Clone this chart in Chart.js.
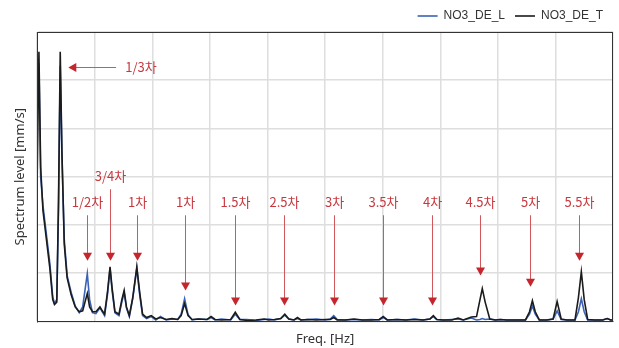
<!DOCTYPE html>
<html>
<head>
<meta charset="utf-8">
<script src="https://cdn.jsdelivr.net/npm/chart.js@4.4.0/dist/chart.umd.min.js"></script>
<style>
  body { margin: 0; background: #fff; }
</style>
</head>
<body>
<canvas id="spectrumChart" width="619" height="348"></canvas>
<script>
/* Spectrum data (shared frequency axis) */
const freqs = [
  0, 0.3, 0.6, 1.0, 1.6, 2.2, 2.7, 3.0, 3.4, 3.7,
  4.0, 4.3, 4.7, 5.2, 5.9, 6.6, 7.3, 7.9, 8.3, 8.7,
  9.1, 9.6, 10.2, 10.9, 11.3, 11.7, 12.2, 12.65, 13.0, 13.5,
  14.2, 14.7, 15.1, 15.5, 16.0, 16.6, 17.3, 17.8, 18.3, 19.0,
  19.8, 20.6, 21.4, 22.4, 23.4, 24.4, 25.0, 25.6, 26.2, 26.9,
  28.0, 29.5, 30.2, 30.9, 32.0, 33.6, 34.4, 35.2, 36.5, 38.0,
  39.4, 40.2, 41.2, 42.3, 43.0, 43.7, 44.6, 45.2, 45.8, 47.0,
  48.5, 50.0, 50.9, 51.5, 52.1, 53.5, 55.0, 56.5, 58.0, 59.4,
  60.1, 60.8, 62.5, 64.0, 65.5, 67.0, 68.2, 68.8, 69.4, 70.5,
  72.0, 73.1, 74.0, 75.4, 76.3, 76.9, 77.3, 77.8, 78.6, 79.6,
  80.4, 81.5, 83.0, 84.8, 85.5, 86.0, 86.5, 87.2, 88.5, 89.6,
  90.3, 91.0, 92.0, 93.4, 94.0, 94.5, 95.0, 95.6, 96.8, 98.2,
  99.0, 99.6, 100
];

const levelT = [
  3.0, 5.59, 3.2, 2.3, 1.7, 1.1, 0.45, 0.35, 0.4, 2.5,
  5.59, 3.5, 1.6, 0.9, 0.55, 0.3, 0.2, 0.22, 0.4, 0.58,
  0.3, 0.2, 0.2, 0.3, 0.22, 0.15, 0.6, 1.13, 0.7, 0.2,
  0.15, 0.45, 0.64, 0.3, 0.12, 0.5, 1.13, 0.6, 0.15, 0.08,
  0.12, 0.05, 0.08, 0.04, 0.06, 0.04, 0.12, 0.37, 0.12, 0.04,
  0.05, 0.04, 0.1, 0.04, 0.03, 0.04, 0.19, 0.04, 0.02, 0.03,
  0.05, 0.03, 0.04, 0.06, 0.15, 0.05, 0.03, 0.08, 0.03, 0.04,
  0.03, 0.04, 0.04, 0.08, 0.03, 0.03, 0.05, 0.03, 0.03, 0.04,
  0.1, 0.03, 0.04, 0.03, 0.04, 0.03, 0.05, 0.12, 0.04, 0.03,
  0.03, 0.07, 0.03, 0.09, 0.1, 0.45, 0.68, 0.4, 0.05, 0.03,
  0.04, 0.03, 0.03, 0.03, 0.2, 0.43, 0.2, 0.03, 0.03, 0.05,
  0.41, 0.05, 0.03, 0.03, 0.5, 1.03, 0.45, 0.04, 0.03, 0.03,
  0.06, 0.03, 0.03
];

const levelL = [
  4.6, 5.35, 3.0, 2.4, 1.8, 1.2, 0.5, 0.38, 0.45, 2.3,
  5.3, 3.4, 1.7, 0.95, 0.6, 0.32, 0.18, 0.3, 0.65, 0.99,
  0.45, 0.18, 0.16, 0.28, 0.2, 0.12, 0.55, 1.1, 0.65, 0.18,
  0.12, 0.4, 0.6, 0.28, 0.1, 0.48, 1.1, 0.55, 0.12, 0.06,
  0.1, 0.03, 0.1, 0.03, 0.05, 0.04, 0.15, 0.47, 0.14, 0.03,
  0.05, 0.04, 0.08, 0.03, 0.05, 0.03, 0.15, 0.04, 0.04, 0.02,
  0.04, 0.05, 0.03, 0.06, 0.13, 0.05, 0.03, 0.06, 0.03, 0.04,
  0.05, 0.03, 0.05, 0.12, 0.04, 0.03, 0.04, 0.03, 0.04, 0.03,
  0.08, 0.03, 0.04, 0.03, 0.05, 0.03, 0.05, 0.1, 0.04, 0.03,
  0.04, 0.05, 0.03, 0.07, 0.03, 0.04, 0.06, 0.04, 0.05, 0.03,
  0.04, 0.03, 0.03, 0.03, 0.15, 0.32, 0.15, 0.03, 0.03, 0.05,
  0.22, 0.04, 0.03, 0.03, 0.2, 0.47, 0.2, 0.03, 0.03, 0.03,
  0.06, 0.03, 0.03
];

/* Order markers (vertical arrows) */
const orderLabels = ["1/2차", "3/4차", "1차", "1차", "1.5차", "2.5차", "3차", "3.5차", "4차", "4.5차", "5차", "5.5차"];
const orderFreqs = [8.67, 12.65, 17.3, 25.6, 34.3, 42.8, 51.5, 60.0, 68.6, 76.9, 85.6, 94.1];
const orderTipLevels = [1.26, 1.26, 1.26, 0.64, 0.33, 0.33, 0.33, 0.33, 0.33, 0.95, 0.72, 1.26];
const orderLabelLevels = [2.47, 3.01, 2.47, 2.47, 2.47, 2.47, 2.47, 2.47, 2.47, 2.47, 2.47, 2.47];

/* 1/3 order marker (horizontal arrow) */
const thirdLabel = "1/3차";
const thirdLevel = 5.28;
const thirdTipFreq = 5.4;
const thirdTailFreq = 13.7;
const thirdTextFreq = 15.3;

(() => {
    const RED = "#c4262d";
    const RED_LINE = "#d0585c";
    const RED_TEXT = "#c8393f";

    // frame around the plot area
    const framePlugin = {
        id: "frame",
        afterDatasetsDraw(chart) {
            const a = chart.chartArea;
            const ctx = chart.ctx;
            ctx.save();
            ctx.strokeStyle = "#333";
            ctx.lineWidth = 1;
            ctx.strokeRect(Math.round(a.left) + 0.5, Math.round(a.top) + 0.5,
                Math.round(a.right - a.left) - 1, Math.round(a.bottom - a.top));
            ctx.restore();
        }
    };

    // red arrows + order labels, positioned through the chart scales
    const orderPlugin = {
        id: "orders",
        afterDraw(chart) {
            const ctx = chart.ctx;
            const xs = chart.scales.x;
            const ys = chart.scales.y;
            ctx.save();
            ctx.font = "13px 'Noto Sans CJK KR', 'Noto Sans', sans-serif";
            ctx.textBaseline = "middle";

            for (let i = 0; i < orderLabels.length; i++) {
                const x = Math.round(xs.getPixelForValue(orderFreqs[i])) + 0.5;
                const yLabel = ys.getPixelForValue(orderLabelLevels[i]);
                const yTip = ys.getPixelForValue(orderTipLevels[i]);

                ctx.fillStyle = RED_TEXT;
                ctx.textAlign = "center";
                ctx.fillText(orderLabels[i], x, yLabel);

                ctx.strokeStyle = RED_LINE;
                ctx.lineWidth = 1;
                ctx.beginPath();
                ctx.moveTo(x, yLabel + 13);
                ctx.lineTo(x, yTip - 6);
                ctx.stroke();

                ctx.fillStyle = RED;
                ctx.beginPath();
                ctx.moveTo(x - 4.5, yTip - 8);
                ctx.lineTo(x + 4.5, yTip - 8);
                ctx.lineTo(x, yTip);
                ctx.closePath();
                ctx.fill();
            }

            // horizontal 1/3 arrow
            const y = Math.round(ys.getPixelForValue(thirdLevel)) + 0.5;
            const xTip = xs.getPixelForValue(thirdTipFreq);
            const xTail = xs.getPixelForValue(thirdTailFreq);
            ctx.strokeStyle = RED_LINE;
            ctx.beginPath();
            ctx.moveTo(xTip + 6, y);
            ctx.lineTo(xTail, y);
            ctx.stroke();
            ctx.fillStyle = RED;
            ctx.beginPath();
            ctx.moveTo(xTip, y);
            ctx.lineTo(xTip + 8, y - 4.5);
            ctx.lineTo(xTip + 8, y + 4.5);
            ctx.closePath();
            ctx.fill();
            ctx.fillStyle = RED_TEXT;
            ctx.textAlign = "left";
            ctx.fillText(thirdLabel, xs.getPixelForValue(thirdTextFreq), y);
            ctx.restore();
        }
    };

    const ctx = document.getElementById("spectrumChart");

    const chartData = {
        datasets: [
            {
                label: "NO3_DE_T",
                data: freqs.map((f, i) => ({ x: f, y: levelT[i] })),
                borderColor: "#1b1b1b",
                backgroundColor: "#1b1b1b",
                borderWidth: 1.6,
                pointRadius: 0,
                pointStyle: "line",
                tension: 0,
            },
            {
                label: "NO3_DE_L",
                data: freqs.map((f, i) => ({ x: f, y: levelL[i] })),
                borderColor: "#3b62b5",
                backgroundColor: "#3b62b5",
                borderWidth: 1.6,
                pointRadius: 0,
                pointStyle: "line",
                tension: 0,
            },
        ],
    };

    new Chart(ctx, {
        type: "line",
        data: chartData,
        plugins: [framePlugin, orderPlugin],
        options: {
            responsive: false,
            animation: false,
            layout: { padding: { left: 4, right: 6, top: 0, bottom: 1 } },
            plugins: {
                tooltip: { enabled: false },
                legend: {
                    position: "top",
                    align: "end",
                    reverse: true,
                    labels: {
                        usePointStyle: true,
                        pointStyleWidth: 20,
                        boxHeight: 12,
                        padding: 10,
                        color: "#333",
                        font: { family: "'Liberation Sans', Arial, sans-serif", size: 12 },
                    },
                },
            },
            scales: {
                x: {
                    type: "linear",
                    min: 0,
                    max: 100,
                    ticks: { display: false, stepSize: 10 },
                    grid: { color: "#dedede", lineWidth: 1.5, drawTicks: false },
                    border: { display: true, color: "#333" },
                    title: {
                        display: true,
                        text: "Freq. [Hz]",
                        color: "#333",
                        font: { family: "'Noto Sans', sans-serif", size: 13 },
                        padding: { top: 10, bottom: 0 },
                    },
                },
                y: {
                    min: 0,
                    max: 6,
                    ticks: { display: false, stepSize: 1 },
                    grid: { color: "#dedede", lineWidth: 1.5, drawTicks: false },
                    border: { display: true, color: "#333" },
                    title: {
                        display: true,
                        text: "Spectrum level [mm/s]",
                        color: "#333",
                        font: { family: "'Noto Sans', sans-serif", size: 13 },
                        padding: { top: 8, bottom: 9.6 },
                    },
                },
            },
        },
    });
})();
</script>
</body>
</html>
